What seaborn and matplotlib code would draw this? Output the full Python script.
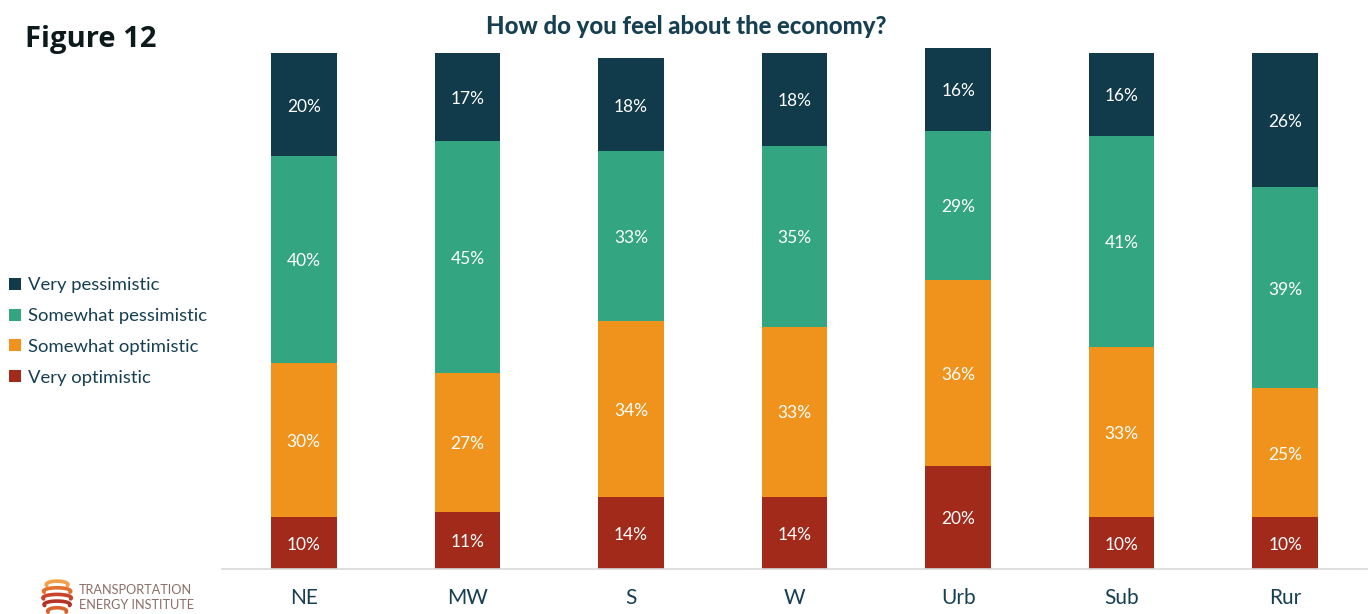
import numpy as np
import pandas as pd
import matplotlib
matplotlib.use("Agg")
import matplotlib.pyplot as plt
from matplotlib.lines import Line2D
import seaborn as sns

# Survey shares (%) by region / community type
categories = ["NE", "MW", "S", "W", "Urb", "Sub", "Rur"]
very_optimistic = [10, 11, 14, 14, 20, 10, 10]
somewhat_optimistic = [30, 27, 34, 33, 36, 33, 25]
somewhat_pessimistic = [40, 45, 33, 35, 29, 41, 39]
very_pessimistic = [20, 17, 18, 18, 16, 16, 26]

series_names = ["Very optimistic", "Somewhat optimistic",
                "Somewhat pessimistic", "Very pessimistic"]
series_values = [very_optimistic, somewhat_optimistic,
                 somewhat_pessimistic, very_pessimistic]
colors = ["#a12a1b", "#ef931d", "#33a580", "#113a4a"]
text_dark = "#163f52"

sns.set_theme(style="white")
plt.rcParams["font.family"] = ["Lato", "DejaVu Sans"]

fig = plt.figure(figsize=(13.72, 6.14), dpi=100)
ax = fig.add_axes([222 / 1372, 45 / 614, (1367 - 222) / 1372, (569 - 48) / 614])

df = pd.DataFrame({"category": categories})
for name, vals in zip(series_names, series_values):
    df[name] = vals

# cumulative tops, drawn from the tallest stack down so each layer overlays the next
cum = np.cumsum(np.array(series_values), axis=0)
for i in range(len(series_names) - 1, -1, -1):
    sns.barplot(x=df["category"], y=cum[i], color=colors[i], width=0.4,
                saturation=1, ax=ax, zorder=2, linewidth=0)

# segment labels
for i, vals in enumerate(series_values):
    bottoms = cum[i] - np.array(vals)
    for j, v in enumerate(vals):
        ax.text(j, bottoms[j] + v / 2 - 0.35, f"{v}%", ha="center", va="center",
                color="white", fontsize=12.5, zorder=5)

ax.set_xlim(-0.5, len(categories) - 0.5)
ax.set_ylim(0, 101)
ax.set_xlabel("")
ax.set_ylabel("")
ax.set_yticks([])
for s in ["top", "right", "left"]:
    ax.spines[s].set_visible(False)
ax.spines["bottom"].set_color("#d9d9d9")
ax.spines["bottom"].set_linewidth(1.2)
ax.tick_params(axis="x", length=0, pad=14, labelsize=15, labelcolor=text_dark)

# title and figure label
fig.text(686 / 1372, 1 - 26 / 614, "How do you feel about the economy?",
         ha="center", va="center", fontsize=17.2, fontweight="black", color=text_dark)
fig.text(25 / 1372, 1 - 40 / 614, "Figure 12", ha="left", va="center",
         fontsize=21, fontweight="bold", color="#0d1a1c",
         family=["Open Sans", "DejaVu Sans"])

# legend
handles = [Line2D([], [], marker="s", linestyle="", markersize=8,
                  markerfacecolor=colors[i], markeredgewidth=0)
           for i in range(3, -1, -1)]
labels = [series_names[i] for i in range(3, -1, -1)]
leg = fig.legend(handles, labels, loc="upper left",
                 bbox_to_anchor=(2 / 1372, 1 - 270 / 614), frameon=False,
                 fontsize=13.3, handlelength=0.6, handletextpad=0.4,
                 labelspacing=0.8, borderaxespad=0)
for t in leg.get_texts():
    t.set_color(text_dark)

# institute mark
lax = fig.add_axes([40 / 1372, 0, 38 / 1372, 38 / 614])
lax.set_xlim(-1, 1)
lax.set_ylim(-1, 1)
lax.axis("off")
theta = np.linspace(-0.6 * np.pi, 0.6 * np.pi, 60)
stripe_cols = ["#f2a04a", "#e4702e", "#c8442a", "#b33424", "#d9622e"]
for k, yc in enumerate([0.65, 0.3, -0.05, -0.4, -0.75]):
    xs = -0.1 + 0.75 * np.sin(theta) * np.sqrt(max(1 - yc ** 2, 0.2))
    ys = yc + 0.18 * np.cos(theta) - 0.1
    lax.plot(xs, ys, color=stripe_cols[k], lw=2.6, solid_capstyle="round")
fig.text(79 / 1372, 1 - 590 / 614, "TRANSPORTATION", fontsize=9.2,
         color="#8c6f66", va="center", ha="left")
fig.text(79 / 1372, 1 - 605 / 614, "ENERGY INSTITUTE", fontsize=9.2,
         color="#8c6f66", va="center", ha="left")

fig.savefig("out.png", dpi=100)
